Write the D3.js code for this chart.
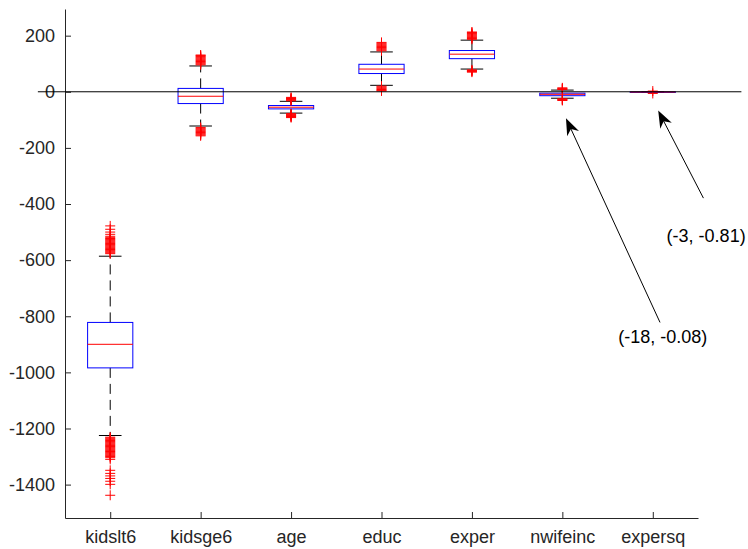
<!DOCTYPE html>
<html>
<head>
<meta charset="utf-8">
<script src="https://cdn.jsdelivr.net/npm/d3@7"></script>
<style>
  body { margin: 0; background: #fff; }
  text { font-family: "Liberation Sans", Arial, Helvetica, sans-serif; }
</style>
</head>
<body>
<div id="wrapper"></div>
<script>
// boxplot stats
const names = ["kidslt6", "kidsge6", "age", "educ", "exper", "nwifeinc", "expersq"];
const q1 = [-984, -42, -61, 65, 118, -14, -1.2];
const med = [-900, -16, -55, 81, 134, -9, -0.8];
const q3 = [-822, 12, -49, 98, 147, -5, -0.4];
const whiskLow = [-1225, -122, -76, 23, 81, -23, -2];
const whiskHigh = [-586, 92, -34, 142, 184, 6, 0.5];

const outKidslt6 = [-478, -490, -500, -508, -515, -520, -523, -526, -529, -532, -535, -538, -541, -544,
  -547, -550, -553, -556, -559, -562, -565, -568, -571, -574, -577,
  -1231, -1234, -1237, -1240, -1243, -1246, -1249, -1252, -1255, -1258, -1261, -1264, -1267, -1270,
  -1273, -1276, -1279, -1282, -1285, -1288, -1291, -1294, -1297, -1300, -1304, -1310,
  -1349, -1360, -1369, -1378, -1388, -1399, -1438];
const outKidsge6 = [96, 99, 102, 105, 108, 111, 114, 117, 120, 123, 126, 129, 131,
  -127, -130, -133, -136, -139, -142, -145, -148, -151, -154, -157];
const outAge = [-20, -22, -24, -26, -28, -30, -32, -78, -80, -82, -84, -86, -88, -90, -92];
const outEduc = [146, 149, 152, 155, 158, 161, 164, 167, 170, 173, 176, 20, 17, 14, 11, 8, 5, 3];
const outExper = [187, 190, 193, 196, 199, 202, 205, 208, 211, 213, 78, 76, 74, 72, 70];
const outNwifeinc = [8, 10, 12, 14, -25, -27, -29, -31];
const outExpersq = [2.5, -6];
const outliers = [outKidslt6, outKidsge6, outAge, outEduc, outExper, outNwifeinc, outExpersq];

const yTicks = [-1400, -1200, -1000, -800, -600, -400, -200, 0, 200];

// annotations (data units): arrow tail, arrow tip, label position
const noteText = ["(-18, -0.08)", "(-3, -0.81)"];
const noteTail = [[7.08, -822], [7.56, -379]];
const noteTip = [[6.04, -94], [7.06, -67]];
const noteLabel = [[7.11, -874], [7.59, -514]];

let dimensions = {
  width: 748,
  height: 549,
  margin: { top: 9, left: 65, bottom: 31, right: 50 }
}
dimensions.boundedWidth = dimensions.width - dimensions.margin.left - dimensions.margin.right;
dimensions.boundedHeight = dimensions.height - dimensions.margin.top - dimensions.margin.bottom;

const ink = "#262626";

let wrapper = d3.select("#wrapper").append("svg")
  .attr("width", dimensions.width)
  .attr("height", dimensions.height);

let xScale = d3.scaleLinear()
  .domain([0.5, 7.5])
  .range([dimensions.margin.left, dimensions.margin.left + dimensions.boundedWidth]);
let yScale = d3.scaleLinear()
  .domain([-1519, 295])
  .range([dimensions.margin.top + dimensions.boundedHeight, dimensions.margin.top]);

// axes, ticks pointing inwards
const xAxisGen = d3.axisBottom(xScale)
  .tickValues(d3.range(1, 8))
  .tickFormat((d, i) => names[i])
  .tickSizeInner(-6).tickSizeOuter(0).tickPadding(12);
const yAxisGen = d3.axisLeft(yScale)
  .tickValues(yTicks)
  .tickFormat(d => String(d))
  .tickSizeInner(-6).tickSizeOuter(0).tickPadding(10);

const axisX = wrapper.append("g")
  .attr("transform", `translate(0, ${yScale.range()[0]})`)
  .call(xAxisGen);
const axisY = wrapper.append("g")
  .attr("transform", `translate(${xScale.range()[0]}, 0)`)
  .call(yAxisGen);

[axisX, axisY].forEach(ax => {
  ax.select(".domain").attr("stroke", ink).attr("stroke-width", 1);
  ax.selectAll(".tick line").attr("stroke", ink);
  ax.selectAll(".tick text")
    .attr("fill", ink)
    .style("font-size", "18px")
    .style("font-family", "'Liberation Sans', Arial, sans-serif");
});

// boxes
const idx = d3.range(names.length);
const boxHalf = 0.25, capHalf = 0.125;
const boxes = wrapper.append("g");

// whiskers (dashed)
boxes.selectAll(".whiskUp").data(idx).enter().append("line")
  .attr("x1", i => xScale(i + 1)).attr("x2", i => xScale(i + 1))
  .attr("y1", i => yScale(q3[i])).attr("y2", i => yScale(whiskHigh[i]))
  .attr("stroke", "#000").attr("stroke-dasharray", "10,6");
boxes.selectAll(".whiskDown").data(idx).enter().append("line")
  .attr("x1", i => xScale(i + 1)).attr("x2", i => xScale(i + 1))
  .attr("y1", i => yScale(q1[i])).attr("y2", i => yScale(whiskLow[i]))
  .attr("stroke", "#000").attr("stroke-dasharray", "10,6");

// caps
[whiskHigh, whiskLow].forEach(w => {
  boxes.append("g").selectAll("line").data(idx).enter().append("line")
    .attr("x1", i => xScale(i + 1 - capHalf)).attr("x2", i => xScale(i + 1 + capHalf))
    .attr("y1", i => yScale(w[i])).attr("y2", i => yScale(w[i]))
    .attr("stroke", "#000");
});

boxes.selectAll("rect").data(idx).enter().append("rect")
  .attr("x", i => xScale(i + 1 - boxHalf))
  .attr("width", i => xScale(i + 1 + boxHalf) - xScale(i + 1 - boxHalf))
  .attr("y", i => yScale(q3[i]))
  .attr("height", i => Math.max(yScale(q1[i]) - yScale(q3[i]), 0.5))
  .attr("fill", "none")
  .attr("stroke", "#0000ff");

boxes.selectAll(".median").data(idx).enter().append("line")
  .attr("x1", i => xScale(i + 1 - boxHalf)).attr("x2", i => xScale(i + 1 + boxHalf))
  .attr("y1", i => yScale(med[i])).attr("y2", i => yScale(med[i]))
  .attr("stroke", "#ff0000");

// outliers as + markers
const pts = [];
outliers.forEach((arr, i) => arr.forEach(v => pts.push({ x: i + 1, y: v })));
const plus = 5;
wrapper.append("g").selectAll("path").data(pts).enter().append("path")
  .attr("d", d => {
    const cx = xScale(d.x), cy = yScale(d.y);
    return `M${cx - plus},${cy}H${cx + plus}M${cx},${cy - plus}V${cy + plus}`;
  })
  .attr("stroke", "#ff0000")
  .attr("stroke-width", 1)
  .attr("fill", "none");

// zero line
wrapper.append("line")
  .attr("x1", xScale(0.2)).attr("x2", xScale(7.98))
  .attr("y1", yScale(0)).attr("y2", yScale(0))
  .attr("stroke", "#000").attr("stroke-width", 1);

// annotation arrows
const notes = wrapper.append("g");
noteText.forEach((t, i) => {
  const x1 = xScale(noteTail[i][0]), y1 = yScale(noteTail[i][1]);
  const x2 = xScale(noteTip[i][0]), y2 = yScale(noteTip[i][1]);
  const len = Math.hypot(x2 - x1, y2 - y1);
  const ux = (x2 - x1) / len, uy = (y2 - y1) / len;
  const nx = -uy, ny = ux;
  const L = 17, W = 13;
  notes.append("line")
    .attr("x1", x1).attr("y1", y1)
    .attr("x2", x2 - ux * 10).attr("y2", y2 - uy * 10)
    .attr("stroke", "#000").attr("stroke-width", 1);
  const head = [
    [x2, y2],
    [x2 - ux * L + nx * W / 2, y2 - uy * L + ny * W / 2],
    [x2 - ux * L * 0.7, y2 - uy * L * 0.7],
    [x2 - ux * L - nx * W / 2, y2 - uy * L - ny * W / 2]
  ];
  notes.append("path")
    .attr("d", "M" + head.map(p => p.join(",")).join("L") + "Z")
    .attr("fill", "#000");
  notes.append("text")
    .attr("x", xScale(noteLabel[i][0]))
    .attr("y", yScale(noteLabel[i][1]))
    .attr("dy", "0.35em")
    .attr("text-anchor", "middle")
    .attr("fill", "#000")
    .style("font-size", "18px")
    .text(t);
});
</script>
</body>
</html>
